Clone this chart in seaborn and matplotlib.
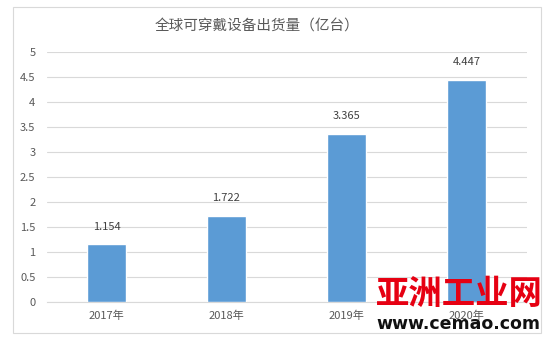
import matplotlib
matplotlib.use("Agg")
import matplotlib.pyplot as plt
import seaborn as sns
import pandas as pd
from matplotlib.patches import Rectangle

categories = ["2017年", "2018年", "2019年", "2020年"]
values = [1.154, 1.722, 3.365, 4.447]
value_labels = ["1.154", "1.722", "3.365", "4.447"]
yticks = [0, 0.5, 1, 1.5, 2, 2.5, 3, 3.5, 4, 4.5, 5]
ytick_labels = ["0", "0.5", "1", "1.5", "2", "2.5", "3", "3.5", "4", "4.5", "5"]
title = "全球可穿戴设备出货量（亿台）"

sns.set_style("white")
plt.rcParams['font.family'] = ['Noto Sans CJK SC', 'DejaVu Sans']

df = pd.DataFrame({"year": categories, "value": values})

fig = plt.figure(figsize=(5.54, 3.4), dpi=100)
ax = fig.add_axes([46.5/554, 1 - 302/340, 480/554, 250/340])

sns.barplot(data=df, x="year", y="value", color="#5B9BD5", width=0.32,
            saturation=1, ax=ax, zorder=3)
ax.set_xlim(-0.5, 3.5)
ax.set_ylim(0, 5)
ax.set_yticks(yticks)
ax.set_yticklabels(ytick_labels)
ax.set_xlabel("")
ax.set_ylabel("")
for s in ["top", "right", "left"]:
    ax.spines[s].set_visible(False)
ax.spines["bottom"].set_color("#D9D9D9")
ax.grid(axis="y", color="#D9D9D9", linewidth=0.8, zorder=0)
ax.tick_params(axis="both", length=0, labelsize=8, colors="#595959", pad=8)
ax.tick_params(axis="x", pad=6)

for i, (v, lab) in enumerate(zip(values, value_labels)):
    ax.annotate(lab, (i, v), xytext=(0, 9), textcoords="offset points",
                ha="center", va="bottom", fontsize=8, color="#404040")

fig.text(257/554, 1 - 27/340, title, ha="center", va="center",
         fontsize=10.5, color="#595959")

fig.patches.append(Rectangle((13/554, 1 - 333/340), 528/554, 326/340,
                             transform=fig.transFigure, fill=False,
                             edgecolor="#D9D9D9", linewidth=0.8))

# watermark
fig.text(459/554, 1 - 294/340, "亚洲工业网", ha="center", va="center",
         fontsize=24, fontweight="bold", color="#E60012", zorder=10)
fig.text(458/554, 1 - 324/340, "www.cemao.com", ha="center", va="center",
         fontsize=12.5, fontweight="bold", color="#111111",
         family=["DejaVu Sans"], zorder=10)

fig.savefig("out.png", dpi=100)
